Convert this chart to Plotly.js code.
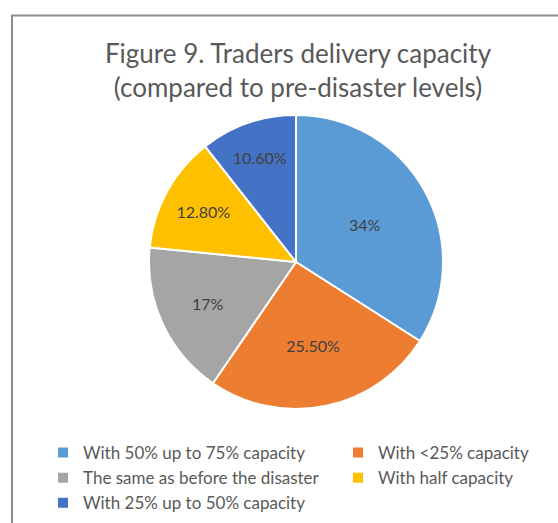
<!DOCTYPE html>
<html>
<head>
<meta charset="utf-8">
<script src="https://cdn.plot.ly/plotly-3.0.1.min.js"></script>
<style>
  html, body { margin: 0; padding: 0; background: #ffffff; overflow: hidden; width: 558px; height: 523px; }
  #chart { width: 680px; height: 523px; }
</style>
</head>
<body>
<div id="chart"></div>
<script>
// ---- data ----
const categories = [
  "With 50% up to 75% capacity",
  "With <25% capacity",
  "The same as before the disaster",
  "With half capacity",
  "With 25% up to 50% capacity"
];
const shares = [34, 25.5, 17, 12.8, 10.6];
const shareLabels = ["34%", "25.50%", "17%", "12.80%", "10.60%"];
const sliceColors = ["#5B9BD5", "#ED7D31", "#A5A5A5", "#FFC000", "#4472C4"];

// ---- layout helpers (pixel positions) ----
const W = 680, H = 523;
const cx = 296, cy = 262, r = 147;

const trace = {
  type: "pie",
  labels: categories,
  values: shares,
  text: shareLabels,
  textinfo: "text",
  textposition: "inside",
  insidetextorientation: "horizontal",
  sort: false,
  direction: "clockwise",
  rotation: 0,
  marker: { colors: sliceColors, line: { color: "#ffffff", width: 2 } },
  textfont: { family: "Lato, 'Open Sans', sans-serif", size: 16, color: "#404040" },
  hoverinfo: "label+text",
  domain: {
    x: [(cx - r) / W, (cx + r) / W],
    y: [(H - (cy + r)) / H, (H - (cy - r)) / H]
  }
};

const layout = {
  width: W,
  height: H,
  margin: { l: 0, r: 0, t: 0, b: 0 },
  paper_bgcolor: "#ffffff",
  plot_bgcolor: "#ffffff",
  font: { family: "Lato, 'Open Sans', sans-serif", color: "#595959" },
  title: {
    text: "Figure 9. Traders delivery capacity<br>(compared to pre-disaster levels)",
    font: { family: "Lato, 'Open Sans', sans-serif", size: 26, color: "#595959" },
    x: 298 / W,
    xanchor: "center",
    y: 1 - 63 / H,
    yanchor: "top"
  },
  showlegend: true,
  legend: {
    orientation: "h",
    x: 43 / W,
    xanchor: "left",
    y: 1 - 435 / H,
    yanchor: "top",
    entrywidth: 250,
    entrywidthmode: "pixels",
    font: { family: "Lato, 'Open Sans', sans-serif", size: 17, color: "#595959" },
    bgcolor: "rgba(0,0,0,0)",
    traceorder: "normal"
  },
  shapes: [{
    type: "rect",
    xref: "paper", yref: "paper",
    x0: 12 / W, x1: 1.05,
    y0: 1 - 15.5 / H, y1: -0.05,
    line: { color: "#8c8c8c", width: 2 },
    fillcolor: "rgba(0,0,0,0)",
    layer: "below"
  }]
};

Plotly.newPlot("chart", [trace], layout, { displayModeBar: false, staticPlot: true });
</script>
</body>
</html>
